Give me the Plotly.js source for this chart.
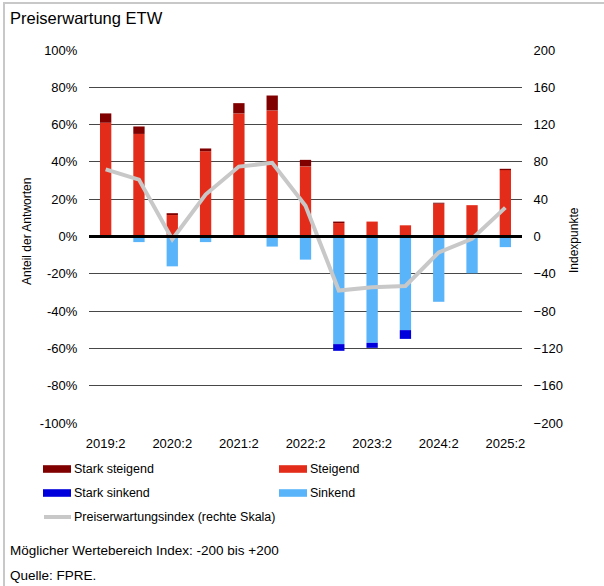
<!DOCTYPE html>
<html>
<head>
<meta charset="utf-8">
<script src="https://cdn.plot.ly/plotly-3.0.1.min.js"></script>
<style>
  html, body { margin: 0; padding: 0; background: #fff; }
  #wrap { position: relative; width: 604px; height: 586px; overflow: hidden; }
  #chart { position: absolute; left: 0; top: 0; width: 604px; height: 586px; }
  #frame { position: absolute; left: 3px; top: 2px; width: 800px; height: 800px;
           border-left: 2px solid #c8c8c8; border-top: 2px solid #c8c8c8; pointer-events: none; }
</style>
</head>
<body>
<div id="wrap">
  <div id="chart"></div>
  <div id="frame"></div>
</div>
<script>
// ---- data ----
const categories = ["2019:2","2020:1","2020:2","2021:1","2021:2","2022:1","2022:2","2023:1","2023:2","2024:1","2024:2","2025:1","2025:2"];
const tickLabels = ["2019:2","2020:2","2021:2","2022:2","2023:2","2024:2","2025:2"];
const starkSteigend = [5, 4, 1, 1.5, 5.5, 8, 3.5, 0.8, 0, 0, 0.5, 0, 0.7];
const steigend      = [61, 55, 11.5, 45.7, 66, 67.6, 37.6, 7.2, 8, 6, 17.6, 16.8, 35.6];
const sinkend       = [0, -3, -16, -3, 0, -5.4, -12.4, -57.7, -57, -50.2, -35, -19.7, -5.7];
const starkSinkend  = [0, 0, 0, 0, 0, 0, 0, -3.6, -2.7, -4.7, 0, 0, 0];
const indexValues   = [72, 61, -3, 45, 75, 79, 33, -58, -54.5, -53, -17, -2.5, 31];
const leftTicks  = [-100,-80,-60,-40,-20,0,20,40,60,80,100];
const rightTicks = [-200,-160,-120,-80,-40,0,40,80,120,160,200];

// ---- colours ----
const cStarkSteigend = "#800000";
const cSteigend = "#e32d1a";
const cStarkSinkend = "#0000dc";
const cSinkend = "#5ab4fa";
const cIndex = "#c8c8c8";

// ---- geometry helpers (pixels -> paper) ----
const W = 604, H = 586, ML = 89, MR = 82, MT = 50, MB = 163;
const PW = W - ML - MR, PH = H - MT - MB;
const px = x => (x - ML) / PW;
const py = y => (H - MB - y) / PH;

const font = "Liberation Sans, Arial, sans-serif";

const barCommon = { type: "bar", x: categories, hoverinfo: "skip", showlegend: false };
const traces = [
  Object.assign({}, barCommon, { name: "Steigend", y: steigend, marker: { color: cSteigend } }),
  Object.assign({}, barCommon, { name: "Stark steigend", y: starkSteigend, marker: { color: cStarkSteigend } }),
  Object.assign({}, barCommon, { name: "Sinkend", y: sinkend, marker: { color: cSinkend } }),
  Object.assign({}, barCommon, { name: "Stark sinkend", y: starkSinkend, marker: { color: cStarkSinkend } }),
  { type: "scatter", mode: "lines", x: categories, y: indexValues, yaxis: "y2",
    name: "Preiserwartungsindex (rechte Skala)", showlegend: false, hoverinfo: "skip",
    line: { color: cIndex, width: 4 } }
];

// legend entries (manual)
const legendItems = [
  { label: "Stark steigend", color: cStarkSteigend, x: 43, y: 469, kind: "bar" },
  { label: "Steigend", color: cSteigend, x: 279, y: 469, kind: "bar" },
  { label: "Stark sinkend", color: cStarkSinkend, x: 43, y: 493, kind: "bar" },
  { label: "Sinkend", color: cSinkend, x: 279, y: 493, kind: "bar" },
  { label: "Preiserwartungsindex (rechte Skala)", color: cIndex, x: 43, y: 517, kind: "line" }
];

const shapes = [
  // zero line above bars
  { type: "line", xref: "paper", yref: "y", x0: 0, x1: 1, y0: 0, y1: 0,
    line: { color: "#000", width: 3 }, layer: "above" }
];
const annotations = [
  { text: "Preiserwartung ETW", xref: "paper", yref: "paper", x: px(8), y: py(18),
    xanchor: "left", yanchor: "middle", showarrow: false, font: { family: font, size: 16.5, color: "#000" } },
  { text: "Anteil der Antworten", xref: "paper", yref: "paper", x: px(27), y: py(232),
    textangle: -90, xanchor: "center", yanchor: "middle", showarrow: false, font: { family: font, size: 12, color: "#000" } },
  { text: "Indexpunkte", xref: "paper", yref: "paper", x: px(574), y: py(240),
    textangle: -90, xanchor: "center", yanchor: "middle", showarrow: false, font: { family: font, size: 12, color: "#000" } },
  { text: "Möglicher Wertebereich Index: -200 bis +200", xref: "paper", yref: "paper", x: px(8), y: py(550),
    xanchor: "left", yanchor: "middle", showarrow: false, font: { family: font, size: 13.5, color: "#000" } },
  { text: "Quelle: FPRE.", xref: "paper", yref: "paper", x: px(8), y: py(575),
    xanchor: "left", yanchor: "middle", showarrow: false, font: { family: font, size: 13.5, color: "#000" } }
];
legendItems.forEach(it => {
  if (it.kind === "bar") {
    shapes.push({ type: "rect", xref: "paper", yref: "paper", x0: px(it.x), x1: px(it.x + 28),
      y0: py(it.y - 3.8), y1: py(it.y + 3.8), fillcolor: it.color, line: { width: 0 } });
  } else {
    shapes.push({ type: "line", xref: "paper", yref: "paper", x0: px(it.x + 1), x1: px(it.x + 28),
      y0: py(it.y), y1: py(it.y), line: { color: it.color, width: 4 } });
  }
  annotations.push({ text: it.label, xref: "paper", yref: "paper", x: px(it.x + 29), y: py(it.y),
    xanchor: "left", yanchor: "middle", showarrow: false, font: { family: font, size: 12.5, color: "#000" } });
});

const layout = {
  width: W, height: H,
  margin: { l: ML, r: MR, t: MT, b: MB, pad: 0 },
  paper_bgcolor: "#fff", plot_bgcolor: "#fff",
  barmode: "relative", bargap: 0.66,
  showlegend: false,
  font: { family: font, size: 13, color: "#000" },
  xaxis: {
    type: "category", tickmode: "array", tickvals: tickLabels, ticktext: tickLabels,
    showgrid: false, zeroline: false, showline: false,
    ticks: "outside", ticklen: 8, tickcolor: "rgba(0,0,0,0)",
    tickfont: { family: font, size: 13, color: "#000" }
  },
  yaxis: {
    range: [-100, 100], autorange: false, tickmode: "array", tickvals: leftTicks,
    ticktext: leftTicks.map(v => v + "%"),
    showgrid: true, gridcolor: "#474747", gridwidth: 1,
    zeroline: false, showline: false,
    ticks: "outside", ticklen: 8, tickcolor: "rgba(0,0,0,0)",
    tickfont: { family: font, size: 13, color: "#000" }
  },
  yaxis2: {
    overlaying: "y", side: "right",
    range: [-200, 200], autorange: false, tickmode: "array", tickvals: rightTicks,
    showgrid: false, zeroline: false, showline: false,
    ticks: "outside", ticklen: 8, tickcolor: "rgba(0,0,0,0)",
    tickfont: { family: font, size: 13, color: "#000" }
  },
  shapes: shapes,
  annotations: annotations
};

Plotly.newPlot("chart", traces, layout, { staticPlot: true, displayModeBar: false });
</script>
</body>
</html>
